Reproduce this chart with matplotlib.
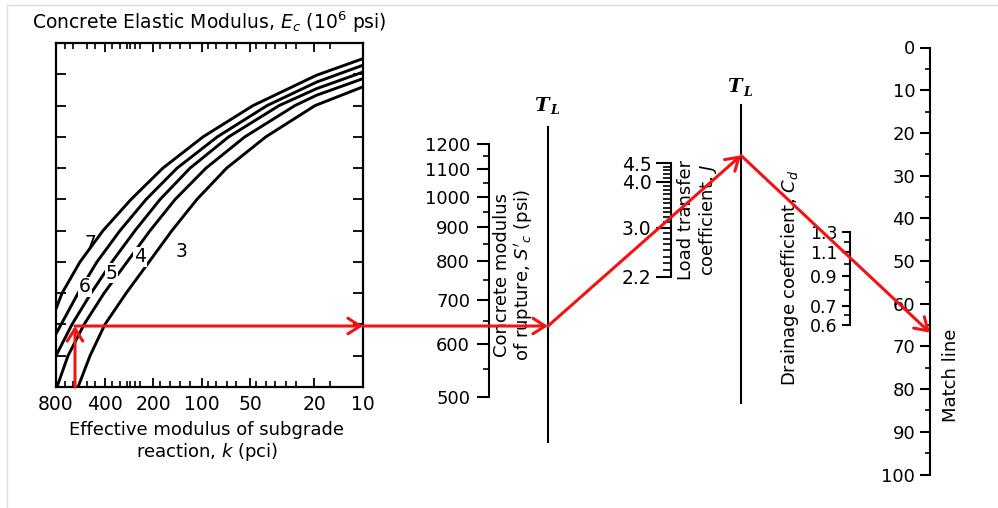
import numpy as np
import matplotlib
matplotlib.use("Agg")
import matplotlib.pyplot as plt
from matplotlib.ticker import NullFormatter

W, H = 998, 508
RED = '#f01414'

# left chart: curves of Ec (10^6 psi), k (pci) against unlabeled grid units
ec3_k = [584, 492, 398, 294, 212, 153, 107, 70, 40, 19.8, 10]
ec3_y = [0, 1, 2, 3, 4, 5, 6, 7, 8, 9, 9.6]
ec4_k = [789, 674, 536, 403, 290, 209, 146, 94, 54, 26.4, 19.4, 10]
ec4_y = [0, 1, 2, 3, 4, 5, 6, 7, 8, 9, 9.33, 9.86]
ec5_k = [800, 637, 485, 360, 259, 181, 118, 68, 33.1, 19.4, 10]
ec5_y = [1.0, 2, 3, 4, 5, 6, 7, 8, 9, 9.54, 10.07]
ec6_k = [800, 584, 446, 321, 221, 142, 80, 39.3, 19.4, 10]
ec6_y = [1.7, 3, 4, 5, 6, 7, 8, 9, 9.75, 10.29]
ec7_k = [800, 734, 568, 409, 274, 174, 98, 48, 19.4, 10]
ec7_y = [2.5, 3, 4, 5, 6, 7, 8, 9, 9.97, 10.5]
ec_labels = ['3', '4', '5', '6', '7']
ec_label_k = [133, 241, 363, 529, 492]
ec_label_y = [4.32, 4.16, 3.64, 3.2, 4.6]

k_major = [800, 400, 200, 100, 50, 20, 10]
k_minor = [700, 625, 516, 458, 361, 321, 292, 278, 259, 241, 181, 157, 136,
           118, 91, 81, 70, 61, 46, 40, 35, 30, 26, 16]

# vertical scales
sc_major = [500, 600, 700, 800, 900, 1000, 1100, 1200]
sc_minor = [550, 650, 750, 850, 950, 1050, 1150]
j_major = [2.2, 3.0, 4.0, 4.5]
j_minor = np.round(np.arange(2.3, 4.45, 0.1), 1)
cd_major = [0.6, 0.7, 0.9, 1.1, 1.3]
cd_minor = [0.65, 0.8, 1.0, 1.2]
match_major = list(range(0, 101, 10))
match_minor = list(range(5, 100, 10))

# worked example (red path)
k_read = 610
level_read = 1.95
j_read = 3.2
cd_read = 1.05


def frac_rect(x0, y0, x1, y1):
    return [x0 / W, 1 - y1 / H, (x1 - x0) / W, (y1 - y0) / H]


fig = plt.figure(figsize=(W / 100, H / 100), dpi=100)

# ---- left chart
ax = fig.add_axes(frac_rect(56, 43, 363, 387))
ax.set_xscale('log')
ax.set_xlim(800, 10)
ax.set_ylim(0, 11)
for kk, yy in [(ec3_k, ec3_y), (ec4_k, ec4_y), (ec5_k, ec5_y), (ec6_k, ec6_y), (ec7_k, ec7_y)]:
    ax.plot(kk, yy, color='black', lw=2.1, solid_capstyle='butt', solid_joinstyle='round')
for lab, kx, ly in zip(ec_labels, ec_label_k, ec_label_y):
    ax.text(kx, ly, lab, fontsize=13.5, ha='center', va='center',
            bbox=dict(facecolor='white', edgecolor='none', pad=0.6) if lab in '456' else None)
ax.set_xticks(k_major, labels=[str(v) for v in k_major])
ax.set_xticks(k_minor, minor=True)
ax.xaxis.set_minor_formatter(NullFormatter())
ax.set_yticks(range(1, 11))
ax.tick_params(axis='y', which='major', direction='in', left=True, right=True,
               length=7, width=1.3, labelleft=False)
ax.tick_params(axis='x', which='major', direction='in', top=True, bottom=True,
               length=6.5, width=1.3, labelsize=13.5, pad=6)
ax.tick_params(axis='x', which='minor', direction='in', top=True, bottom=True,
               length=4.5, width=1.2)
for s in ax.spines.values():
    s.set_linewidth(1.6)


def vscale(x, y_top, y_bot, lo, hi, major, labels, minor, log, maj_len, min_len, pad, size):
    a = fig.add_axes(frac_rect(x, y_top, x + 1, y_bot))
    a.patch.set_visible(False)
    for s in ['top', 'right', 'bottom']:
        a.spines[s].set_visible(False)
    a.spines['left'].set_linewidth(1.5)
    a.set_xticks([])
    if log:
        a.set_yscale('log')
    a.set_ylim(lo, hi)
    a.set_yticks(major, labels=labels)
    a.set_yticks(minor, minor=True)
    a.yaxis.set_minor_formatter(NullFormatter())
    a.tick_params(axis='y', which='major', direction='out', length=maj_len,
                  width=1.5, pad=pad, labelsize=size)
    a.tick_params(axis='y', which='minor', direction='out', length=min_len, width=1.2)
    return a


ax_sc = vscale(489, 144, 397, 500, 1200, sc_major, [str(v) for v in sc_major],
               sc_minor, True, 8.6, 4.3, 5, 13)
ax_j = vscale(671, 163, 277, 2.2, 4.5, j_major, [f'{v:.1f}' for v in j_major],
              j_minor, True, 11, 6, 3, 13.5)
ax_cd = vscale(850, 232, 325, 0.6, 1.3, cd_major, [f'{v:.1f}' for v in cd_major],
               cd_minor, True, 6, 4.5, 3, 12.5)
ax_m = vscale(930, 47.5, 474.5, 100, 0, match_major, [str(v) for v in match_major],
              match_minor, False, 7, 3.6, 3.6, 13)

# ---- overlay in pixel coordinates
ov = fig.add_axes([0, 0, 1, 1])
ov.set_xlim(0, W)
ov.set_ylim(H, 0)
ov.axis('off')
ov.patch.set_alpha(0)


def px(a, x, y):
    d = a.transData.transform((x, y))
    return ov.transData.inverted().transform(d)


# frame lines of the scan
ov.plot([7, W], [5, 5], color='#dcdcdc', lw=1)
ov.plot([7, 7], [5, H], color='#dcdcdc', lw=1)

# T_L turning lines
TL1_X, TL2_X = 548, 741
ov.plot([TL1_X, TL1_X], [127, 442], color='black', lw=1.5)
ov.plot([TL2_X, TL2_X], [105, 403], color='black', lw=1.5)
for tx, ty in [(TL1_X + 1, 106), (TL2_X + 1, 87)]:
    ov.text(tx, ty, 'T', fontsize=14, family='DejaVu Serif', style='italic',
            weight='bold', ha='right', va='center')
    ov.text(tx + 1, ty + 5, 'L', fontsize=9, family='DejaVu Serif', style='italic',
            weight='bold', ha='left', va='center')

# texts
ov.text(32, 22, r'Concrete Elastic Modulus, $E_c$ (10$^6$ psi)', fontsize=13.5, ha='left', va='center')
ov.text(207, 442, 'Effective modulus of subgrade\nreaction, $k$ (pci)', fontsize=13,
        ha='center', va='center', linespacing=1.1)
ov.text(514, 275, "Concrete modulus\nof rupture, $S'_c$ (psi)", fontsize=13, rotation=90,
        ha='center', va='center', linespacing=1.1)
ov.text(698, 220, 'Load transfer\ncoefficient, $J$', fontsize=13, rotation=90,
        ha='center', va='center', linespacing=1.1)
ov.text(790, 278, 'Drainage coefficient, $C_d$', fontsize=13, rotation=90,
        ha='center', va='center')
ov.text(951, 375, 'Match line', fontsize=13, rotation=90, ha='center', va='center')

# ---- red path
p0 = px(ax, k_read, 0)
p1 = px(ax, k_read, level_read)
p2 = px(ax, 10, level_read)
p3 = np.array([TL1_X, p2[1]])
pj = px(ax_j, 0, j_read)
p4 = np.array([TL2_X, p3[1] + (pj[1] - p3[1]) / (pj[0] - p3[0]) * (TL2_X - p3[0])])
pc = px(ax_cd, 0, cd_read)
mx = px(ax_m, 0, 50)[0]
p5 = np.array([mx, p4[1] + (pc[1] - p4[1]) / (pc[0] - p4[0]) * (mx - p4[0])])

aprops = dict(arrowstyle='->,head_length=0.55,head_width=0.35', color=RED, lw=2.2,
              shrinkA=0, shrinkB=0, mutation_scale=16)
for a_from, a_to in [(p0, p1), (p1, p2), (p2, p3), (p3, p4), (p4, p5)]:
    ov.annotate('', xy=a_to, xytext=a_from, arrowprops=aprops)

fig.savefig('out.png', dpi=100)
